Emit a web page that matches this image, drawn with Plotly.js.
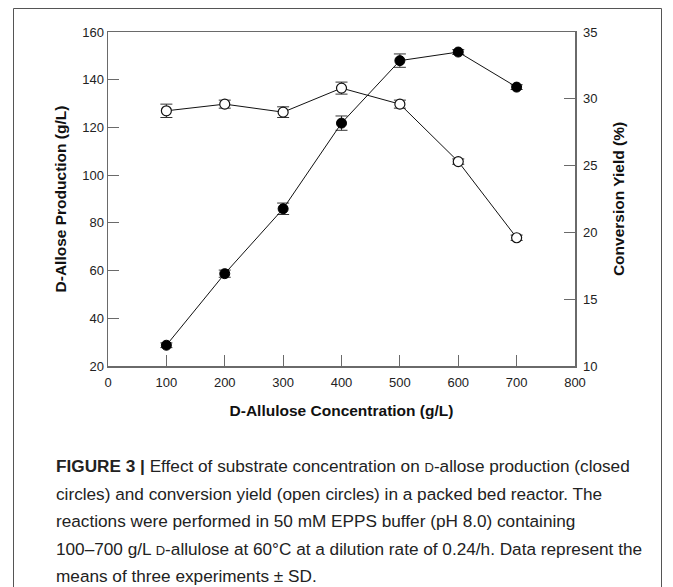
<!DOCTYPE html>
<html>
<head>
<meta charset="utf-8">
<script src="https://cdn.plot.ly/plotly-3.0.1.min.js"></script>
<style>
html,body{margin:0;padding:0;background:#fff;}
#chart{width:673px;height:587px;}
</style>
</head>
<body>
<div id="chart"></div>
<script>
// Data
const concentration = [100, 200, 300, 400, 500, 600, 700];          // D-allulose (g/L)
const production    = [28.7, 58.7, 85.9, 121.8, 148.0, 151.6, 136.9]; // D-allose (g/L), closed circles
const productionSD  = [1.0, 1.5, 2.4, 3.0, 2.8, 1.0, 1.0];
const yieldPct      = [29.1, 29.6, 29.0, 30.8, 29.6, 25.3, 19.6];    // conversion yield (%), open circles
const yieldSD       = [0.5, 0.3, 0.4, 0.45, 0.3, 0.2, 0.2];
const xTicks  = [0, 100, 200, 300, 400, 500, 600, 700, 800];
const y1Ticks = [20, 40, 60, 80, 100, 120, 140, 160];
const y2Ticks = [10, 15, 20, 25, 30, 35];
const captionLines = [
  '<b>FIGURE 3 |</b> Effect of substrate concentration on <span style="font-size:13px">D</span>-allose production (closed',
  'circles) and conversion yield (open circles) in a packed bed reactor. The',
  'reactions were performed in 50 mM EPPS buffer (pH 8.0) containing',
  '100–700 g/L <span style="font-size:13px">D</span>-allulose at 60°C at a dilution rate of 0.24/h. Data represent the',
  'means of three experiments ± SD.'
];

const W = 673, H = 587;
const L = 108, R = 575, T = 32, B = 366;
const px2x = p => (p - L) / (R - L);
const px2y = p => (B - p) / (B - T);

const axisFont = {family: 'Liberation Sans, Arial, sans-serif', size: 13, color: '#222'};
const titleFont = {family: 'Liberation Sans, Arial, sans-serif', size: 15.5, color: '#111'};
const axLine = '#6a6a6a';

const traces = [
  {
    x: concentration, y: yieldPct, yaxis: 'y2', type: 'scatter', mode: 'lines+markers',
    line: {color: '#111', width: 1},
    marker: {symbol: 'circle', size: 10, color: '#fff', line: {color: '#111', width: 1.2}},
    error_y: {type: 'data', array: yieldSD, visible: true, color: '#333', thickness: 1, width: 6},
    showlegend: false, cliponaxis: false
  },
  {
    x: concentration, y: production, yaxis: 'y', type: 'scatter', mode: 'lines+markers',
    line: {color: '#111', width: 1},
    marker: {symbol: 'circle', size: 10, color: '#000', line: {color: '#000', width: 1}},
    error_y: {type: 'data', array: productionSD, visible: true, color: '#333', thickness: 1, width: 6},
    showlegend: false, cliponaxis: false
  }
];

const captionY = [466, 493.5, 521, 548.5, 576];
const annotations = captionLines.map((t, i) => ({
  text: t, xref: 'paper', yref: 'paper', x: px2x(54), y: px2y(captionY[i]),
  xanchor: 'left', yanchor: 'middle', align: 'left', showarrow: false,
  font: {family: 'Liberation Sans, Arial, sans-serif', size: 17.2, color: '#222'}
}));

const layout = {
  width: W, height: H,
  margin: {l: L, r: W - R, t: T, b: H - B, pad: 0},
  paper_bgcolor: '#fff', plot_bgcolor: '#fff',
  showlegend: false,
  xaxis: {
    range: [0, 800], tickvals: xTicks, ticktext: xTicks.map(String),
    ticks: 'inside', ticklen: 11, tickcolor: axLine, tickwidth: 1.2,
    showline: true, linecolor: axLine, linewidth: 1.5, mirror: true,
    showgrid: false, zeroline: false, tickfont: axisFont, ticklabelstandoff: 4,
    title: {text: '<b>D-Allulose Concentration (g/L)</b>', font: titleFont, standoff: 16}
  },
  yaxis: {
    range: [20, 160], tickvals: y1Ticks, ticktext: y1Ticks.map(String),
    ticks: 'inside', ticklen: 11, tickcolor: axLine, tickwidth: 1.2,
    showline: true, linecolor: axLine, linewidth: 1.5,
    showgrid: false, zeroline: false, tickfont: axisFont,
    title: {text: '<b>D-Allose Production (g/L)</b>', font: titleFont, standoff: 12}
  },
  yaxis2: {
    range: [10, 35], tickvals: y2Ticks, ticktext: y2Ticks.map(String),
    overlaying: 'y', side: 'right', anchor: 'x',
    ticks: 'inside', ticklen: 11, tickcolor: axLine, tickwidth: 1.2,
    showline: true, linecolor: axLine, linewidth: 1.5,
    showgrid: false, zeroline: false, tickfont: axisFont, ticklabelstandoff: 4,
    title: {text: '<b>Conversion Yield (%)</b>', font: titleFont, standoff: 16}
  },
  shapes: [{
    type: 'rect', xref: 'paper', yref: 'paper', layer: 'below',
    x0: px2x(13.5), x1: px2x(661.5), y0: px2y(620), y1: px2y(8.5),
    line: {color: '#555', width: 1}, fillcolor: 'rgba(0,0,0,0)'
  }],
  annotations: annotations
};

Plotly.newPlot('chart', traces, layout, {displayModeBar: false, staticPlot: true});
</script>
</body>
</html>
